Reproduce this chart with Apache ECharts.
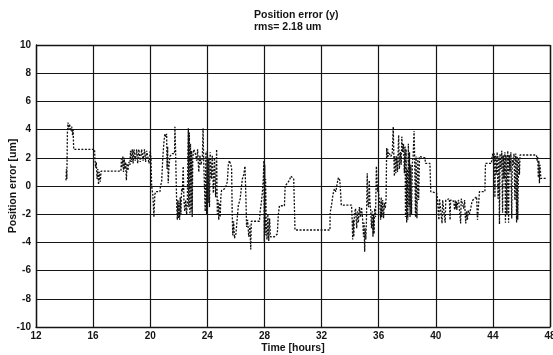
<!DOCTYPE html>
<html>
<head>
<meta charset="utf-8">
<title>Position error (y)</title>
<script src="https://cdn.jsdelivr.net/npm/echarts@6/dist/echarts.min.js"></script>
<style>
  html, body { margin: 0; padding: 0; background: #fff; }
  #chart { width: 553px; height: 355px; }
</style>
</head>
<body>
<div id="chart"></div>
<script>
// 위치 오차 (y) 시계열 — 시간[h] / 오차[um]
const titleLines = ["Position error (y)", "rms= 2.18 um"];
const xTicks = [12, 16, 20, 24, 28, 32, 36, 40, 44, 48];
const yTicks = [-10, -8, -6, -4, -2, 0, 2, 4, 6, 8, 10];

const timeHours = [
  14.10, 14.13, 14.16, 14.20, 14.24, 14.30, 14.35, 14.42, 14.50, 14.56, 14.60, 14.64,
  16.10, 16.13, 16.18, 16.22, 16.28, 16.33, 16.38, 16.44, 16.50, 16.56,
  17.95, 17.98, 18.02, 18.08, 18.13, 18.18, 18.22, 18.28, 18.33, 18.38, 18.44, 18.50,
  18.58, 18.62, 18.68, 18.74, 18.80, 18.86, 18.95, 19.05, 19.12, 19.20, 19.30, 19.40,
  19.50, 19.60, 19.68, 19.75, 19.85, 19.92, 20.00, 20.05,
  20.10, 20.18, 20.26, 20.32, 20.40, 20.68, 20.72, 20.80, 20.88, 20.95, 21.02, 21.10,
  21.15, 21.18, 21.22, 21.26, 21.32, 21.38, 21.55, 21.70, 21.73, 21.78, 21.82, 21.86,
  21.90, 21.94, 21.98, 22.02, 22.06, 22.10, 22.15, 22.20, 22.25, 22.31, 22.36, 22.42,
  22.48, 22.55, 22.60, 22.64, 22.67, 22.70, 22.74, 22.78, 22.82, 22.86, 22.90, 22.94,
  22.98, 23.05, 23.13, 23.18, 23.25, 23.32, 23.40, 23.48, 23.55, 23.65, 23.70, 23.74,
  23.80, 23.85, 23.90, 23.95, 24.00, 24.05, 24.10, 24.15, 24.20, 24.28, 24.35, 24.42,
  24.50, 24.58, 24.65, 24.70, 24.75, 24.80, 24.85, 24.90, 24.95, 25.00, 25.10, 25.20,
  25.30, 25.40, 25.47, 25.55, 25.65, 25.70, 25.74, 25.78, 25.84, 25.90, 26.00, 26.10,
  26.17, 26.25, 26.30, 26.40, 26.45, 26.55, 26.64, 26.70, 26.75, 26.82, 26.90, 26.98,
  27.04, 27.08,
  27.65, 27.70, 27.78, 27.85, 27.92, 27.96, 27.99, 28.02, 28.05, 28.08, 28.12, 28.18,
  28.24, 28.30, 28.36, 28.42, 28.50, 28.70, 28.90, 28.97, 29.05, 29.40, 29.45, 29.60,
  29.75, 29.85, 29.95, 30.05, 30.14, 32.59,
  32.60, 32.70, 32.80, 32.90, 33.00, 33.10, 33.18, 33.28, 33.32, 33.38, 34.10, 34.15,
  34.18, 34.22, 34.26, 34.30, 34.38, 34.46, 34.52, 34.58, 34.65, 34.72, 34.80, 34.88,
  34.94, 34.98, 35.02, 35.06, 35.10, 35.14, 35.20, 35.24, 35.30, 35.34, 35.38, 35.44,
  35.50, 35.55, 35.60, 35.64, 35.68, 35.72, 35.78, 35.84, 35.88, 35.92, 35.97, 36.02,
  36.08, 36.14, 36.18, 36.22, 36.28, 36.34, 36.40, 36.46, 36.52, 36.56, 36.60, 36.64,
  36.68, 36.75, 36.85, 36.95, 37.02, 37.06, 37.10, 37.15, 37.20, 37.26, 37.32, 37.40,
  37.45, 37.52, 37.58, 37.62, 37.68, 37.74, 37.80, 37.85, 37.88, 37.92, 37.96, 38.00,
  38.04, 38.08, 38.12, 38.16, 38.20, 38.25, 38.30, 38.36, 38.42, 38.48, 38.52, 38.58,
  38.62, 38.68, 38.74, 38.80, 38.86, 38.90, 39.24, 39.28, 39.59, 39.65, 40.06, 40.10,
  40.18, 40.22, 40.26, 40.29, 40.40, 40.44, 40.48, 40.62, 40.66, 40.70, 40.80, 40.95,
  41.00, 41.04, 41.20, 41.28, 41.32, 41.36, 41.40, 41.44, 41.48, 41.52, 41.60, 41.70,
  41.74, 41.78, 41.90, 41.95, 42.02, 42.06, 42.10, 42.16, 42.22, 42.27, 42.35, 42.45,
  42.52, 42.60, 42.86, 42.92, 43.00, 43.06, 43.10, 43.44, 43.48, 43.90, 43.94, 44.00,
  44.05, 44.10, 44.14, 44.18, 44.24, 44.30, 44.36, 44.42, 44.46, 44.50, 44.56, 44.62,
  44.68, 44.72, 44.78, 44.84, 44.88, 44.92, 44.98, 45.04, 45.10, 45.14, 45.20, 45.26,
  45.32, 45.36, 45.42, 45.48, 45.54, 45.60, 45.66, 45.70, 45.74, 45.80, 45.86, 45.90,
  47.05, 47.10, 47.14, 47.18, 47.22, 47.26, 47.30, 47.36, 47.80
];

const positionUm = [
  0.4, 1.2, 0.5, 3.8, 4.5, 4.0, 4.4, 3.9, 4.2, 3.6, 4.0, 2.6,
  2.6, 1.9, 1.3, 1.7, 0.5, 1.2, 0.1, 1.0, 0.3, 1.05,
  1.05, 1.9, 1.3, 2.1, 1.0, 2.0, 1.2, 1.7, 0.4, 1.6, 1.1, 1.7,
  1.5, 2.5, 1.7, 2.6, 1.6, 2.6, 1.8, 2.6, 1.6, 2.6, 1.7, 2.6,
  1.8, 2.6, 1.7, 2.5, 2.5, 1.6, 2.5, 2.0,
  0.0, -0.6, -2.2, -0.6, -0.4, -0.4, 0.0, 0.3, 2.0, 3.0, 3.7, 3.5,
  3.7, 1.2, 2.8, 0.2, 1.5, 2.1, 2.3, 2.3, 4.2, 2.4, 0.3, -1.5,
  -2.4, -1.0, -2.3, -1.2, -2.4, -0.8, -2.0, -0.2, -0.4, 1.4, -1.0, -1.8,
  -1.0, -2.0, -1.2, 2.5, 4.1, -1.5, 3.8, -2.0, 3.0, -1.8, 2.5, -2.2,
  2.0, 2.6, 2.4, 2.2, 1.8, 2.6, 1.0, 2.2, 1.5, 2.0, 4.1, 2.0,
  2.1, -1.8, 2.4, -2.0, 2.5, -1.2, 2.0, -1.5, 2.4, 0.5, 2.2, -0.5,
  2.0, -0.8, 2.6, -2.0, -1.0, -2.4, -1.2, -2.2, -0.7, -0.3, -0.4, -0.2,
  0.0, 0.3, 1.5, 1.8, 1.8, 1.3, -1.8, -3.5, -2.5, -3.7, -3.4, -3.4,
  -1.4, -1.4, -0.9, -0.9, 0.5, 0.8, 1.4, -0.8, -2.9, -2.4, -3.6, -2.8,
  -4.5, -2.5,
  -2.5, -1.8, -1.2, -0.5, 0.5, 1.8, -3.95, 1.5, -3.5, 0.5, -2.3, -3.8,
  -2.0, -3.9, -2.3, -3.6, -3.5, -3.6, -3.4, -2.06, -1.4, -1.4, 0.0, 0.2,
  0.4, 0.7, 0.75, 0.5, -3.12, -3.12,
  -1.9, -1.35, -0.6, -0.2, -0.4, 0.2, 0.6, 0.4, -0.2, -1.35, -1.35, -2.6,
  -3.8, -2.4, -3.6, -2.0, -1.6, -3.0, -1.8, -2.6, -1.5, -2.2, -1.5, -2.4,
  -3.6, -2.6, -4.66, -3.0, -3.8, -2.6, 0.9, -1.2, -1.5, 0.4, -1.0, -1.7,
  -3.0, -1.8, -3.6, -2.0, -3.4, -1.6, -2.2, 1.4, 0.6, -0.4, 0.0, -0.8,
  -1.2, -2.4, -0.8, -2.2, -1.0, -2.3, -1.2, -1.6, -0.9, 2.7, 2.0, 2.6,
  2.1, 2.3, 2.1, 2.3, 4.2, 2.3, 0.7, 2.1, 0.9, 2.1, 1.0, 3.6,
  1.2, 2.4, 1.5, 3.5, 2.4, 3.0, 0.9, 2.8, -2.2, 2.6, -2.6, 1.2,
  -2.4, 3.0, -1.5, 2.4, -2.2, 1.5, -2.0, 1.6, 2.2, 3.9, 2.1, -2.2,
  2.1, -2.3, 2.0, -1.0, 2.1, 2.1, 2.0, 1.6, 1.6, -0.4, -0.5, -0.76,
  -0.76, -2.4, -0.9, -1.0, -1.0, -2.65, -1.0, -1.0, -2.6, -1.0, -0.9, -0.9,
  -2.4, -1.0, -1.0, -1.3, -1.7, -1.0, -1.6, -1.1, -1.7, -1.2, -1.0, -1.0,
  -2.65, -0.9, -1.0, -1.6, -1.0, -2.0, -2.65, -1.8, -2.4, -1.7, -2.0, -1.6,
  -1.2, -1.0, -0.76, -2.4, -2.4, -0.4, -0.4, -0.4, 1.6, 1.6, 2.1, 2.3,
  1.6, 2.3, -0.8, 2.2, 0.8, 2.4, -0.9, 2.1, -2.7, 2.3, 1.2, 2.5,
  -1.9, 2.2, 0.5, 2.4, -2.6, 2.2, -2.0, 2.5, -2.6, 2.2, 1.0, 2.4,
  -2.3, 2.0, 1.5, 2.3, -1.0, 2.3, -2.6, 2.1, -2.4, 2.0, 0.8, 2.2,
  2.2, 1.8, 2.1, 0.6, 1.8, 0.2, 1.5, 0.54, 0.54
];

const chart = echarts.init(document.getElementById("chart"), null, { renderer: "canvas" });
const ink = "#141414";
const font = "Liberation Sans";
const labelText = { fontFamily: font, fontWeight: "bold", fontSize: 10, color: ink };

chart.setOption({
  animation: false,
  backgroundColor: "#fff",
  title: {
    text: titleLines.join("\n"),
    left: 249,
    top: 4,
    textStyle: { fontFamily: font, fontWeight: "bold", fontSize: 10.5, color: ink, lineHeight: 12 },
  },
  grid: { left: 36, right: 3, top: 45, bottom: 28, containLabel: false, outerBoundsMode: "none" },
  xAxis: {
    type: "value",
    min: xTicks[0],
    max: xTicks[xTicks.length - 1],
    interval: 4,
    name: "Time [hours]",
    nameLocation: "middle",
    nameGap: 16,
    nameMoveOverlap: false,
    nameTextStyle: { ...labelText, fontSize: 10.5, verticalAlign: "top" },
    axisLine: { show: true, onZero: false, lineStyle: { color: ink, width: 1.4 } },
    axisTick: { show: false },
    axisLabel: { ...labelText, margin: 4 },
    splitLine: { show: true, lineStyle: { color: ink, width: 1.2 } },
  },
  yAxis: {
    type: "value",
    min: yTicks[0],
    max: yTicks[yTicks.length - 1],
    interval: 2,
    name: "Position error [um]",
    nameLocation: "middle",
    nameGap: 17,
    nameMoveOverlap: false,
    nameTextStyle: { ...labelText, fontSize: 10.5 },
    axisLine: { show: true, onZero: false, lineStyle: { color: ink, width: 1.4 } },
    axisTick: { show: false },
    axisLabel: { ...labelText, margin: 5 },
    splitLine: { show: true, lineStyle: { color: ink, width: 1.2 } },
  },
  series: [
    {
      type: "line",
      data: timeHours.map((t, i) => [t, positionUm[i]]),
      showSymbol: false,
      lineStyle: { color: "#111", width: 1.3, type: [2, 1.5] },
    },
    {
      // 상단/우측 테두리
      type: "line",
      data: [],
      markLine: {
        silent: true,
        symbol: "none",
        label: { show: false },
        lineStyle: { color: ink, width: 1.4, type: "solid" },
        data: [{ xAxis: xTicks[xTicks.length - 1] }, { yAxis: yTicks[yTicks.length - 1] }],
      },
    },
  ],
});
</script>
</body>
</html>
